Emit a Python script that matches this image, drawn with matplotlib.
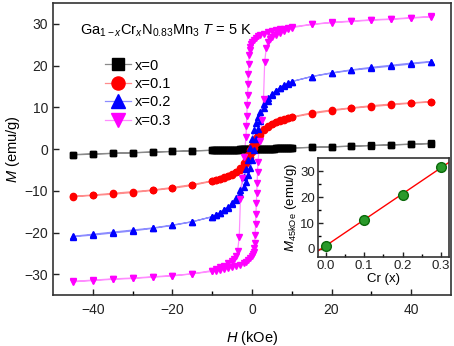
import numpy as np
import matplotlib
matplotlib.use('Agg')
import matplotlib.pyplot as plt
from matplotlib.lines import Line2D

plt.rcParams['font.family'] = ['Liberation Sans', 'DejaVu Sans']
plt.rcParams['mathtext.fontset'] = 'custom'
plt.rcParams['mathtext.rm'] = 'Liberation Sans'
plt.rcParams['mathtext.it'] = 'Liberation Sans:italic'

# descending branch (H from +45 to -45 kOe), ascending branch is its mirror
h_x0 = [45, 40, 35, 30, 25, 20, 15, 10, 9.5, 9, 8.5, 8, 7.5, 7, 6.5, 6, 5.5, 5, 4.5, 4,
        3.5, 3, 2.5, 2, 1.5, 1, 0.5, 0, -0.5, -1, -1.5, -2, -2.5, -3, -3.5, -4, -4.5, -5,
        -5.5, -6, -6.5, -7, -7.5, -8, -8.5, -9, -9.5, -10, -15, -20, -25, -30, -35, -40, -45]
m_x0 = [1.30, 1.15, 1.0, 0.85, 0.7, 0.55, 0.42, 0.28, 0.27, 0.25, 0.24, 0.22, 0.21, 0.2,
        0.18, 0.17, 0.15, 0.14, 0.13, 0.11, 0.1, 0.08, 0.07, 0.06, 0.05, 0.03, 0.02, 0.01,
        -0.01, -0.03, -0.04, -0.06, -0.07, -0.08, -0.1, -0.11, -0.13, -0.14, -0.15, -0.17,
        -0.18, -0.2, -0.21, -0.22, -0.24, -0.25, -0.27, -0.28, -0.42, -0.56, -0.72, -0.88,
        -1.03, -1.2, -1.38]
h_down = [45, 40, 35, 30, 25, 20, 15, 10, 9, 8, 7, 6, 5, 4, 3, 2, 1.5, 1, 0.5, 0,
          -0.5, -1, -1.5, -2, -3, -4, -5, -6, -7, -8, -9, -10,
          -15, -20, -25, -30, -35, -40, -45]
m_x1 = [11.3, 11.0, 10.6, 10.2, 9.8, 9.2, 8.5, 7.6, 7.4, 7.1, 6.8, 6.5, 6.1, 5.6, 4.9,
        4.0, 3.4, 2.7, 1.8, 0.8, -0.3, -1.5, -2.5, -3.4, -4.6, -5.4, -6.0, -6.5, -6.9,
        -7.2, -7.5, -7.7, -8.7, -9.4, -9.9, -10.4, -10.8, -11.1, -11.4]
m_x2 = [20.9, 20.4, 19.9, 19.4, 18.9, 18.2, 17.4, 16.2, 15.8, 15.3, 14.7, 14.0, 13.2,
        12.2, 10.8, 9.0, 7.8, 6.3, 4.5, 2.5, 0.3, -2.5, -4.8, -6.8, -9.8, -11.6, -12.9,
        -13.9, -14.6, -15.2, -15.7, -16.2, -17.4, -18.3, -19.0, -19.6, -20.1, -20.6, -21.0]
h_x3 = [45, 40, 35, 30, 25, 20, 15, 10, 9, 8, 7, 6, 5, 4, 3, 2, 1.5, 1, 0.5, 0,
        -0.3, -0.5, -0.6, -0.7, -0.8, -0.9, -1.0, -1.1, -1.2, -1.3, -1.4, -1.5,
        -2, -2.5, -2.9, -3.2, -3.6, -4, -4.5, -5, -6, -7, -8, -9, -10,
        -15, -20, -25, -30, -35, -40, -45]
m_x3 = [31.7, 31.4, 31.1, 30.9, 30.6, 30.3, 29.9, 29.3, 29.1, 28.9, 28.7, 28.5, 28.3,
        28.0, 27.7, 27.3, 27.0, 26.6, 26.1, 25.6, 25.2, 24.6, 23.8, 22.5, 20.5, 18.0,
        15.5, 13.0, 10.5, 8.0, 5.5, 3.0, -2.0, -7.0, -12.0, -21.0, -24.3, -25.6, -26.3,
        -26.8, -27.4, -27.9, -28.3, -28.7, -29.1, -29.9, -30.4, -30.7, -31.0, -31.2,
        -31.5, -31.8]

labels = ['x=0', 'x=0.1', 'x=0.2', 'x=0.3']
cr = [0.0, 0.1, 0.2, 0.3]

series = [(h_x0, m_x0, 's', 'black', '#8a8a8a', 4.0),
          (h_down, m_x1, 'o', 'red', '#ff8c8c', 4.5),
          (h_down, m_x2, '^', 'blue', '#8c8cff', 5.0),
          (h_x3, m_x3, 'v', 'magenta', '#ff8cff', 5.0)]

fig = plt.figure(figsize=(4.54, 3.46), dpi=100)
ax = fig.add_axes([0.117, 0.147, 0.876, 0.844])

handles = []
for h, m, mk, c, lc, ms in series:
    h = np.array(h, dtype=float)
    m = np.array(m, dtype=float)
    # down sweep then the mirrored up sweep
    hh = np.concatenate([h, -h])
    mm = np.concatenate([m, -m])
    ax.plot(hh, mm, '-', color=lc, lw=0.9, zorder=2)
    ax.plot(hh, mm, mk, color=c, ms=ms, mec=c, zorder=3)
    handles.append(Line2D([], [], color=lc, lw=0.9, marker=mk, mfc=c, mec=c, ms=ms * 2.1))

ax.set_xlim(-50, 50)
ax.set_ylim(-35, 35)
ax.set_xticks([-40, -20, 0, 20, 40])
ax.set_xticks([-30, -10, 10, 30], minor=True)
ax.set_yticks([-30, -20, -10, 0, 10, 20, 30])
ax.tick_params(direction='in', length=4, width=1, labelsize=10, colors='#222222')
ax.tick_params(which='minor', direction='in', length=3, width=1)
ax.tick_params(axis='x', pad=6)
for s in ax.spines.values():
    s.set_color('#333333')
    s.set_linewidth(1.2)
ax.set_xlabel('$H$ (kOe)', fontsize=10.5, labelpad=8)
ax.set_ylabel('$M$ (emu/g)', fontsize=10.5, labelpad=2)

ax.text(0.068, 0.905, r'Ga$_{\mathrm{1-}x}$Cr$_x$N$_{\mathrm{0.83}}$Mn$_{\mathrm{3}}$ $T$ = 5 K',
        transform=ax.transAxes, fontsize=10.5, va='center', ha='left')

ax.legend(handles, labels, loc='upper left', bbox_to_anchor=(0.13, 0.81), frameon=False,
          fontsize=10.5, handlelength=1.8, handletextpad=0.25, labelspacing=0.3,
          borderpad=0, borderaxespad=0)

# inset: M at 45 kOe vs Cr content
m45 = [m_x0[0], m_x1[0], m_x2[0], m_x3[0]]
ins = fig.add_axes([0.700, 0.258, 0.2885, 0.284])
k, b = np.polyfit(cr, m45, 1)
xl = np.array([-0.02, 0.32])
ins.plot(xl, k * xl + b, color='red', lw=1, zorder=2)
ins.plot(cr, m45, 'o', ms=7, mfc='#2a9a2a', mec='#0a6a0a', mew=1, zorder=3)
ins.set_xlim(-0.02, 0.32)
ins.set_ylim(-3, 35)
ins.set_xticks([0.0, 0.1, 0.2, 0.3])
ins.set_xticklabels(['0.0', '0.1', '0.2', '0.3'])
ins.set_xticks([0.05, 0.15, 0.25], minor=True)
ins.set_yticks([0, 10, 20, 30])
ins.set_yticks([5, 15, 25], minor=True)
ins.tick_params(direction='in', length=3.5, width=1, labelsize=9.5, pad=2, colors='#222222')
ins.tick_params(which='minor', direction='in', length=2, width=1)
for s in ins.spines.values():
    s.set_color('#333333')
    s.set_linewidth(1.2)
ins.set_xlabel('Cr (x)', fontsize=9.5, labelpad=1)
ins.set_ylabel('$M_{\\mathrm{45kOe}}$ (emu/g)', fontsize=9.5, labelpad=1)

fig.savefig('out.png', dpi=100)
